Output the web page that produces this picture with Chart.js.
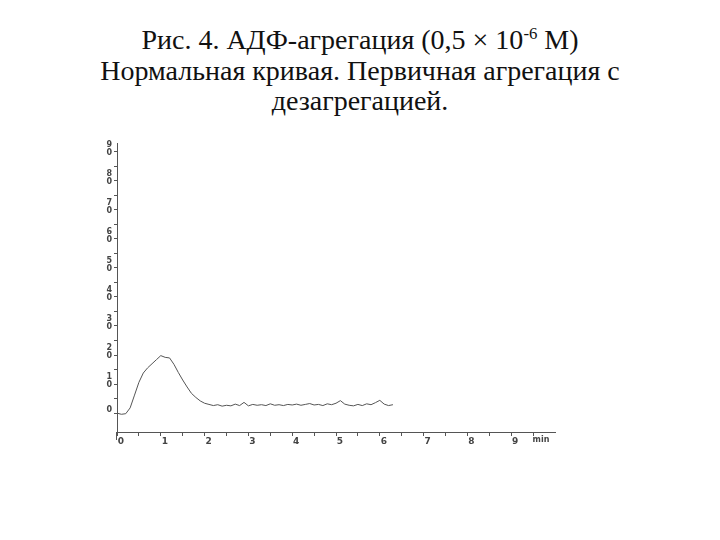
<!DOCTYPE html>
<html lang="ru">
<head>
  <meta charset="UTF-8">
  <title>АДФ-агрегация</title>
  <script src="https://cdn.jsdelivr.net/npm/chart.js"></script>
  <style>
    body {
      margin: 0;
      background: #fff;
      width: 720px;
      height: 540px;
      position: relative;
      overflow: hidden;
    }

    .title {
      position: absolute;
      left: 0;
      top: 25px;
      width: 720px;
      text-align: center;
      font-family: "Liberation Serif", "Times New Roman", serif;
      font-size: 28px;
      line-height: 30.5px;
      color: #111;
    }

    .title sup {
      font-size: 0.6em;
      line-height: 0;
    }

    .chart-box {
      position: absolute;
      left: 0;
      top: 0;
      width: 720px;
      height: 540px;
    }
  </style>
</head>
<body>

  <div class="title">
    Рис. 4. АДФ-агрегация (0,5 × 10<sup>-6</sup> М)<br>
    Нормальная кривая. Первичная агрегация с<br>
    дезагрегацией.
  </div>

  <div class="chart-box">
    <canvas id="aggChart" width="720" height="540"></canvas>
  </div>

  <script>
    // time, min
    const times = [
      0.0, 0.1, 0.2, 0.3, 0.4, 0.5, 0.6, 0.7, 0.8, 0.9,
      1.0, 1.1, 1.2, 1.3, 1.4, 1.5, 1.6, 1.7, 1.8, 1.9,
      2.0, 2.1, 2.2, 2.3, 2.4, 2.5, 2.6, 2.7, 2.8, 2.9,
      3.0, 3.1, 3.2, 3.3, 3.4, 3.5, 3.6, 3.7, 3.8, 3.9,
      4.0, 4.1, 4.2, 4.3, 4.4, 4.5, 4.6, 4.7, 4.8, 4.9,
      5.0, 5.1, 5.2, 5.3, 5.4, 5.5, 5.6, 5.7, 5.8, 5.9,
      6.0, 6.1, 6.2, 6.3
    ];

    // aggregation, %
    const aggregation = [
      0.0, -0.4, -0.2, 1.8, 6.2, 10.6, 13.8, 15.6, 17.0, 18.4,
      19.8, 19.2, 19.0, 16.8, 14.0, 11.4, 9.0, 6.8, 5.4, 4.2,
      3.4, 3.0, 2.6, 2.9, 2.4, 2.7, 2.5, 3.1, 2.6, 3.7,
      2.5, 3.0, 2.7, 2.9, 2.6, 3.2, 2.7, 2.9, 2.6, 3.0,
      2.8, 3.1, 2.7, 3.0, 3.3, 2.8, 3.0, 2.6, 3.2, 2.9,
      3.4, 4.3, 3.1, 2.7, 2.5, 3.0, 2.6, 3.2, 2.9, 3.6,
      4.4, 3.1, 2.6, 2.9
    ];

    const yTicks = [0, 5, 10, 15, 20, 25, 30, 35, 40, 45, 50, 55, 60, 65, 70, 75, 80, 85, 90];
    const xTicks = [0, 0.5, 1, 1.5, 2, 2.5, 3, 3.5, 4, 4.5, 5, 5.5, 6, 6.5, 7, 7.5, 8, 8.5, 9, 9.5];
    const unitLabel = "min";

    const axisColor = "#555";
    const labelFont = { family: "DejaVu Sans", size: 9, weight: "bold" };

    // "min" after the last x label, y axis running a little below the x axis
    const unitPlugin = {
      id: "unitLabel",
      afterDraw(chart) {
        const x = chart.scales.x;
        const y = chart.scales.y;
        const ctx = chart.ctx;
        ctx.save();
        ctx.strokeStyle = axisColor;
        ctx.lineWidth = 1;
        ctx.beginPath();
        ctx.moveTo(y.right - 0.5, x.top);
        ctx.lineTo(y.right - 0.5, x.top + 8);
        ctx.stroke();
        ctx.font = "bold 8px 'DejaVu Sans'";
        ctx.fillStyle = "#444";
        ctx.textAlign = "center";
        ctx.textBaseline = "top";
        ctx.fillText(unitLabel, x.getPixelForValue(9.68), x.top + 4);
        ctx.restore();
      }
    };

    const ctx = document.getElementById("aggChart").getContext("2d");
    new Chart(ctx, {
      type: "line",
      data: {
        datasets: [{
          data: times.map((t, i) => ({ x: t, y: aggregation[i] })),
          borderColor: "#555",
          borderWidth: 1,
          pointRadius: 0,
          fill: false,
          tension: 0
        }]
      },
      options: {
        responsive: false,
        animation: false,
        layout: { padding: { left: 100, right: 165, top: 143, bottom: 88 } },
        plugins: {
          legend: { display: false },
          tooltip: { enabled: false }
        },
        scales: {
          x: {
            type: "linear",
            min: 0,
            max: 10,
            afterBuildTicks: s => { s.ticks = xTicks.map(v => ({ value: v })); },
            afterFit: s => { s.height = 20; },
            border: { color: axisColor, width: 1 },
            grid: {
              drawOnChartArea: false,
              drawTicks: true,
              tickLength: 4,
              color: axisColor
            },
            ticks: {
              autoSkip: false,
              maxRotation: 0,
              padding: 0,
              labelOffset: 4,
              color: "#444",
              font: labelFont,
              callback: v => Number.isInteger(v) ? String(v) : ""
            }
          },
          y: {
            min: -6.5,
            max: 93,
            afterBuildTicks: s => { s.ticks = yTicks.map(v => ({ value: v })); },
            afterFit: s => { s.width = 17; },
            border: { color: axisColor, width: 1 },
            grid: {
              drawOnChartArea: false,
              drawTicks: true,
              tickLength: 3,
              color: axisColor
            },
            ticks: {
              autoSkip: false,
              padding: 2,
              labelOffset: -3,
              color: "#444",
              font: { family: "DejaVu Sans", size: 8, weight: "bold", lineHeight: 0.95 },
              callback: v => {
                if (v % 10 !== 0) return "";
                if (v === 0) return "0";
                return String(v).split("");
              }
            }
          }
        }
      },
      plugins: [unitPlugin]
    });
  </script>

</body>
</html>
